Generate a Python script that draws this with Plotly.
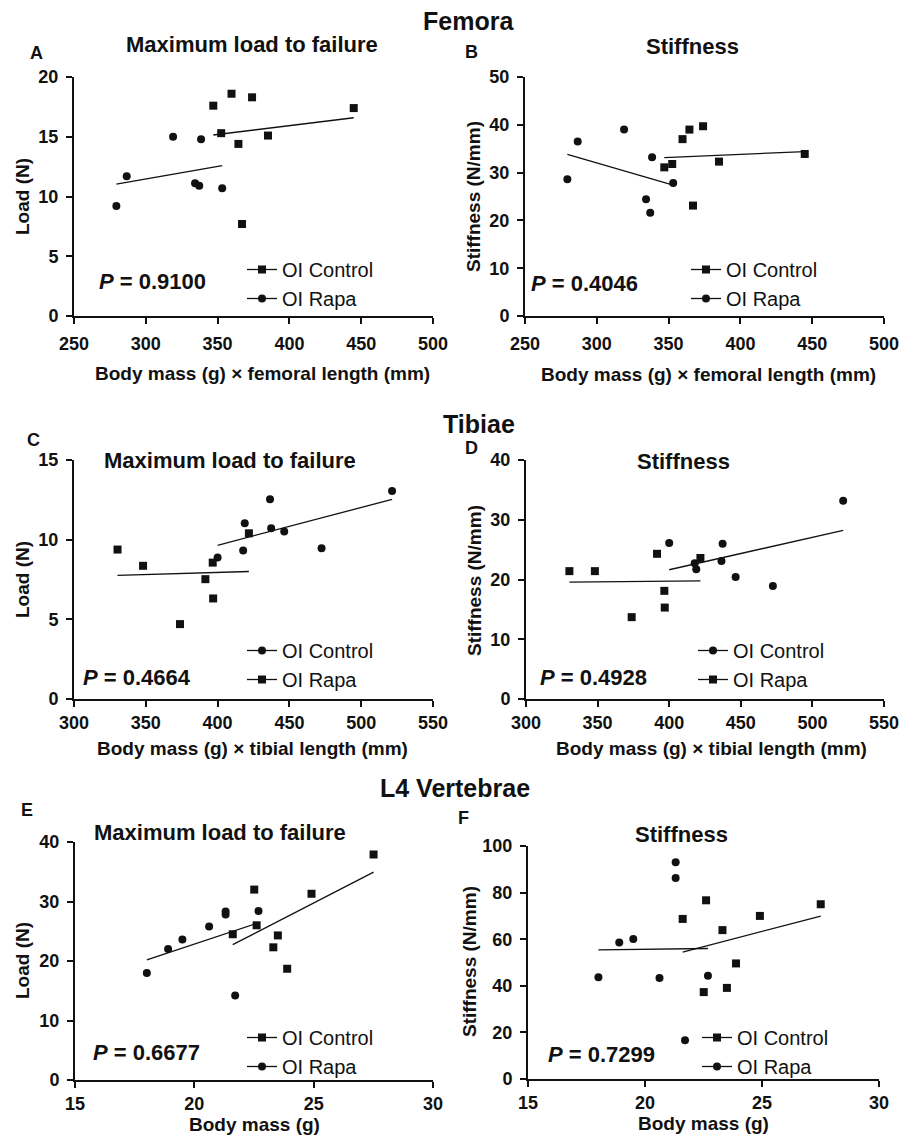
import numpy as np
import plotly.graph_objects as go

# The page body has an 8 px margin, so the figure is drawn 8 px in from the
# top-left corner of the window; size and place everything accordingly.
PAGE_W, PAGE_H, BODY_MARGIN = 914, 1136, 8
W, H = PAGE_W - BODY_MARGIN, PAGE_H - BODY_MARGIN

# ---------------- data ----------------
# Femora: x = body mass (g) x femoral length (mm)
fem_ctrl_x = [347.0, 352.5, 359.7, 364.5, 367.0, 374.0, 385.1, 444.8]
fem_ctrl_load = [17.6, 15.3, 18.6, 14.4, 7.7, 18.3, 15.1, 17.4]
fem_ctrl_stiff = [31.1, 31.8, 37.0, 39.0, 23.1, 39.7, 32.3, 33.9]
fem_rapa_x = [279.5, 286.7, 319.0, 334.3, 337.2, 338.5, 353.2]
fem_rapa_load = [9.2, 11.7, 15.0, 11.1, 10.9, 14.8, 10.7]
fem_rapa_stiff = [28.6, 36.5, 39.0, 24.4, 21.6, 33.2, 27.8]

# Tibiae: x = body mass (g) x tibial length (mm)
tib_ctrl_x = [400.0, 417.8, 418.9, 436.5, 437.3, 446.4, 472.4, 521.5]
tib_ctrl_load = [8.88, 9.32, 11.03, 12.53, 10.72, 10.51, 9.46, 13.06]
tib_ctrl_stiff = [26.1, 22.7, 21.7, 23.1, 26.0, 20.4, 18.9, 33.2]
tib_rapa_x = [330.3, 348.1, 373.8, 391.5, 396.6, 396.9, 421.8]
tib_rapa_load = [9.38, 8.36, 4.70, 7.52, 8.56, 6.31, 10.40]
tib_rapa_stiff = [21.4, 21.4, 13.7, 24.3, 18.1, 15.3, 23.6]

# L4 vertebrae: x = body mass (g)
vert_ctrl_x = [21.61, 22.51, 22.61, 23.31, 23.50, 23.89, 24.91, 27.51]
vert_ctrl_load = [24.5, 32.0, 26.0, 22.3, 24.3, 18.7, 31.3, 37.9]
vert_ctrl_stiff = [68.7, 37.3, 76.7, 63.9, 39.1, 49.6, 70.0, 75.0]
vert_rapa_x = [18.01, 18.90, 19.50, 20.62, 21.31, 21.31, 21.71, 22.69]
vert_rapa_load = [18.0, 22.0, 23.6, 25.8, 28.3, 27.8, 14.2, 28.4]
vert_rapa_stiff = [43.7, 58.6, 60.1, 43.3, 93.0, 86.3, 16.6, 44.3]

# tick labels
fem_x_ticks = [250, 300, 350, 400, 450, 500]
tib_x_ticks = [300, 350, 400, 450, 500, 550]
vert_x_ticks = [15, 20, 25, 30]
fem_load_ticks = [0, 5, 10, 15, 20]
fem_stiff_ticks = [0, 10, 20, 30, 40, 50]
tib_load_ticks = [0, 5, 10, 15]
tib_stiff_ticks = [0, 10, 20, 30, 40]
vert_load_ticks = [0, 10, 20, 30, 40]
vert_stiff_ticks = [0, 20, 40, 60, 80, 100]

p_values = ["0.9100", "0.4046", "0.4664", "0.4928", "0.6677", "0.7299"]
panel_letters = ["A", "B", "C", "D", "E", "F"]
panel_titles = ["Maximum load to failure", "Stiffness"] * 3
section_titles = ["Femora", "Tibiae", "L4 Vertebrae"]
x_titles = ["Body mass (g) \u00d7 femoral length (mm)"] * 2 + \
           ["Body mass (g) \u00d7 tibial length (mm)"] * 2 + ["Body mass (g)"] * 2
y_titles = ["Load (N)", "Stiffness (N/mm)"] * 3
group_names = ["OI Control", "OI Rapa"]

# ---------------- layout helpers ----------------
FONT = "Liberation Sans, Arial, Helvetica, sans-serif"
INK = "#111111"


def px(x):
    """window pixel x -> paper fraction"""
    return (x - BODY_MARGIN) / W


def py(y):
    """window pixel y -> paper fraction"""
    return 1 - (y - BODY_MARGIN) / H


panels = [
    dict(xt_vals=fem_x_ticks, yt_vals=fem_load_ticks, xdom=(74, 433), ydom=(77, 316),
         ctrl=(fem_ctrl_x, fem_ctrl_load), rapa=(fem_rapa_x, fem_rapa_load),
         ctrl_sym="square", rapa_sym="circle", xstand=4,
         letter=(37, 53), title=(252, 45), xt=(262, 373), yt=(22, 197),
         p=(97, 281), leg=(242, 250)),
    dict(xt_vals=fem_x_ticks, yt_vals=fem_stiff_ticks, xdom=(525, 884), ydom=(77, 316),
         ctrl=(fem_ctrl_x, fem_ctrl_stiff), rapa=(fem_rapa_x, fem_rapa_stiff),
         ctrl_sym="square", rapa_sym="circle", xstand=4,
         letter=(472, 52), title=(692, 47), xt=(708, 374), yt=(474, 196),
         p=(529, 284), leg=(686, 250)),
    dict(xt_vals=tib_x_ticks, yt_vals=tib_load_ticks, xdom=(74, 433), ydom=(460, 699),
         ctrl=(tib_ctrl_x, tib_ctrl_load), rapa=(tib_rapa_x, tib_rapa_load),
         ctrl_sym="circle", rapa_sym="square", xstand=0,
         letter=(33, 440), title=(230, 460), xt=(252, 748), yt=(22, 580),
         p=(81, 677), leg=(242, 631)),
    dict(xt_vals=tib_x_ticks, yt_vals=tib_stiff_ticks, xdom=(526, 884), ydom=(460, 699),
         ctrl=(tib_ctrl_x, tib_ctrl_stiff), rapa=(tib_rapa_x, tib_rapa_stiff),
         ctrl_sym="circle", rapa_sym="square", xstand=0,
         letter=(472, 448), title=(683, 461), xt=(711, 748), yt=(474, 580),
         p=(538, 677), leg=(693, 631)),
    dict(xt_vals=vert_x_ticks, yt_vals=vert_load_ticks, xdom=(75, 433), ydom=(842, 1080),
         ctrl=(vert_ctrl_x, vert_ctrl_load), rapa=(vert_rapa_x, vert_rapa_load),
         ctrl_sym="square", rapa_sym="circle", xstand=0,
         letter=(27, 810), title=(220, 832), xt=(254, 1124), yt=(22, 961),
         p=(91, 1052), leg=(242, 1018)),
    dict(xt_vals=vert_x_ticks, yt_vals=vert_stiff_ticks, xdom=(528, 879), ydom=(846, 1079),
         ctrl=(vert_ctrl_x, vert_ctrl_stiff), rapa=(vert_rapa_x, vert_rapa_stiff),
         ctrl_sym="square", rapa_sym="circle", xstand=0,
         letter=(463, 818), title=(681, 834), xt=(703, 1123), yt=(469, 962),
         p=(546, 1054), leg=(697, 1018)),
]

fig = go.Figure()
annotations = []
layout = dict(
    template="none",
    width=W, height=H, autosize=False,
    margin=dict(l=0, r=0, t=0, b=0, pad=0),
    paper_bgcolor="white", plot_bgcolor="white",
    font=dict(family=FONT, color=INK),
)


def ann(text, x, y, size, bold=True, xanchor="center", angle=0):
    annotations.append(dict(
        text=("<b>%s</b>" % text) if bold else text,
        x=px(x), y=py(y), xref="paper", yref="paper",
        xanchor=xanchor, yanchor="middle", showarrow=False,
        textangle=angle,
        font=dict(family=FONT, size=size, color=INK),
    ))


def bold_labels(vals):
    return ["<b>%s</b>" % v for v in vals]


for i, p in enumerate(panels):
    n = i + 1
    xa = "x" if n == 1 else "x%d" % n
    ya = "y" if n == 1 else "y%d" % n
    xkey = "xaxis" if n == 1 else "xaxis%d" % n
    ykey = "yaxis" if n == 1 else "yaxis%d" % n
    lkey = "legend" if n == 1 else "legend%d" % n

    axis_common = dict(
        showgrid=False, zeroline=False, showline=True, linecolor=INK, linewidth=2,
        ticks="outside", ticklen=6, tickwidth=2, tickcolor=INK,
        tickfont=dict(family=FONT, size=18, color=INK),
        fixedrange=True, automargin=False, tickmode="array",
    )
    xv, yv = p["xt_vals"], p["yt_vals"]
    layout[xkey] = dict(axis_common, domain=[px(p["xdom"][0]), px(p["xdom"][1])],
                        range=[xv[0], xv[-1]], tickvals=xv, ticktext=bold_labels(xv),
                        anchor=ya, ticklabelstandoff=p["xstand"])
    layout[ykey] = dict(axis_common, domain=[py(p["ydom"][1]), py(p["ydom"][0])],
                        range=[yv[0], yv[-1]], tickvals=yv, ticktext=bold_labels(yv),
                        anchor=xa, ticklabelstandoff=4)

    groups = [(group_names[0], p["ctrl"], p["ctrl_sym"]),
              (group_names[1], p["rapa"], p["rapa_sym"])]
    for name, (gx, gy), sym in groups:
        gx = np.asarray(gx, dtype=float)
        gy = np.asarray(gy, dtype=float)
        # data points
        fig.add_trace(go.Scatter(
            x=gx, y=gy, mode="markers", xaxis=xa, yaxis=ya, showlegend=False,
            marker=dict(symbol=sym, size=8, color=INK), hoverinfo="skip",
            cliponaxis=False,
        ))
        # least-squares regression line over the group's range
        slope, icpt = np.polyfit(gx, gy, 1)
        lx = np.array([gx.min(), gx.max()])
        fig.add_trace(go.Scatter(
            x=lx, y=slope * lx + icpt, mode="lines", xaxis=xa, yaxis=ya,
            showlegend=False, line=dict(color=INK, width=1.3), hoverinfo="skip",
        ))
        # legend entry
        fig.add_trace(go.Scatter(
            x=[None], y=[None], mode="lines+markers", name=name, xaxis=xa, yaxis=ya,
            legend=lkey, showlegend=True,
            marker=dict(symbol=sym, size=8, color=INK),
            line=dict(color=INK, width=1.3),
        ))

    layout[lkey] = dict(
        x=px(p["leg"][0]), y=py(p["leg"][1]), xanchor="left", yanchor="top",
        xref="paper", yref="paper",
        bgcolor="rgba(0,0,0,0)", borderwidth=0,
        font=dict(family=FONT, size=20, color=INK),
        itemwidth=30, tracegroupgap=0,
    )

    ann(panel_letters[i], p["letter"][0], p["letter"][1], 18)
    ann(panel_titles[i], p["title"][0], p["title"][1], 22)
    ann(x_titles[i], p["xt"][0], p["xt"][1], 19)
    ann(y_titles[i], p["yt"][0], p["yt"][1], 19, angle=-90)
    ann("<i>P</i> = " + p_values[i], p["p"][0], p["p"][1], 22, xanchor="left")

# section headings
ann(section_titles[0], 468, 21, 25)
ann(section_titles[1], 479, 424, 25)
ann(section_titles[2], 455, 788, 25)

layout["annotations"] = annotations
fig.update_layout(**layout)
fig.write_html("out.html")
